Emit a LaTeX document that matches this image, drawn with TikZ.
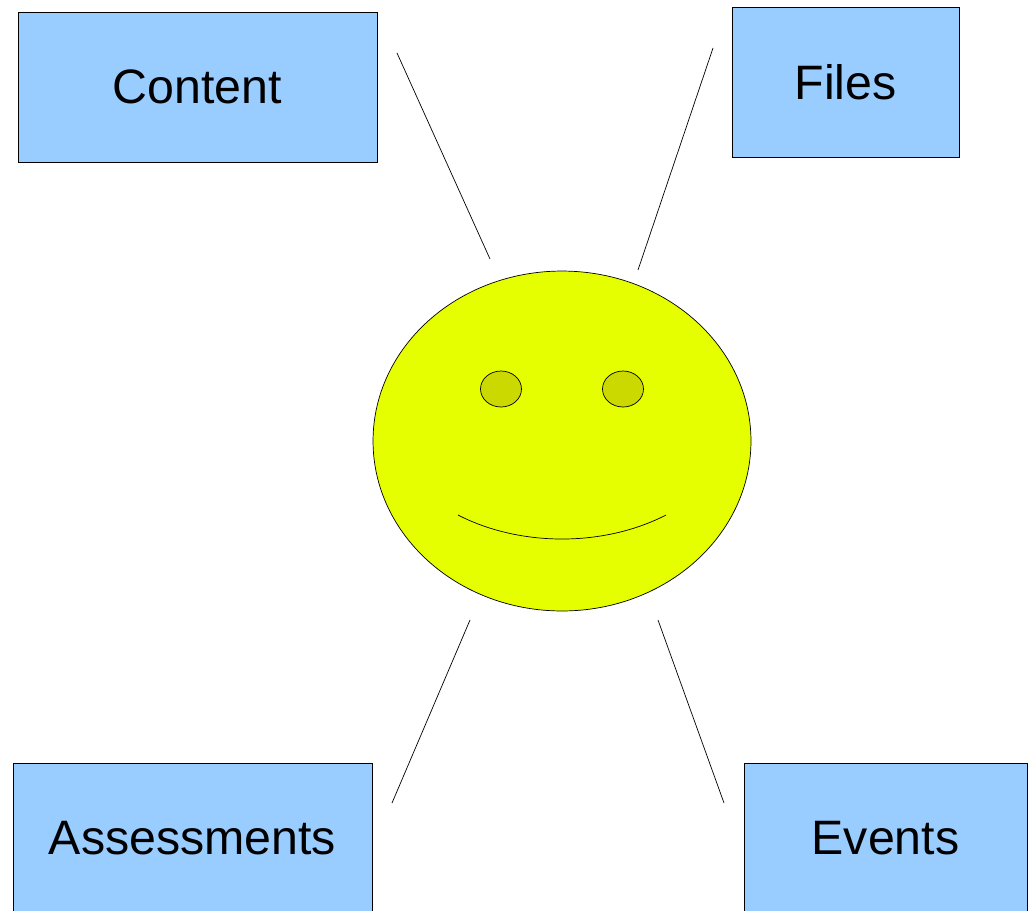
\documentclass[tikz,border=0pt]{standalone}
\usepackage{fontspec}
\setmainfont{Liberation Sans}
\usetikzlibrary{shapes.geometric}
\definecolor{boxblue}{HTML}{99CCFF}
\definecolor{faceyellow}{HTML}{E5FF00}
\definecolor{eyeolive}{HTML}{CCD900}
\begin{document}
\begin{tikzpicture}[x=0.02cm, y=-0.02cm,
    topic/.style={rectangle, draw, fill=boxblue, minimum height=3cm, inner sep=0pt,
      font=\fontsize{27.5}{32}\selectfont},
    eye/.style={ellipse, draw, fill=eyeolive, minimum width=0.82cm, minimum height=0.72cm, inner sep=0pt},
    spoke/.style={draw, line width=0.4pt}]
      \useasboundingbox (0,0) rectangle (1033,910);
      % topics
      \node (content) at (197.5,87) [topic, minimum width=7.18cm] {Content};
      \node (files) at (845.5,82) [topic, minimum width=4.54cm] {Files};
      \node (assess) at (192.5,838) [topic, minimum width=7.18cm] {Assessments};
      \node (events) at (885.5,838) [topic, minimum width=5.66cm] {Events};
      % face
      \node (face) at (562,441) [ellipse, draw, fill=faceyellow, minimum width=7.56cm, minimum height=6.8cm, inner sep=0pt] {};
      \node (lefteye) at (501,389) [eye] {};
      \node (righteye) at (623,389) [eye] {};
      \coordinate (smileL) at (458,515);
      \coordinate (smileR) at (666,515);
      \draw (smileL) .. controls (520,547) and (604,547) .. (smileR);
      % spokes
      \coordinate (c1) at (397,53);  \coordinate (c2) at (490,259);
      \coordinate (f1) at (713,48);  \coordinate (f2) at (638,270);
      \coordinate (a1) at (470,620); \coordinate (a2) at (392,803);
      \coordinate (e1) at (658,620); \coordinate (e2) at (724,803);
      \foreach \source/\dest in {c1/c2, f1/f2, a1/a2, e1/e2}
        \path (\source) edge[spoke] (\dest);
\end{tikzpicture}
\end{document}
